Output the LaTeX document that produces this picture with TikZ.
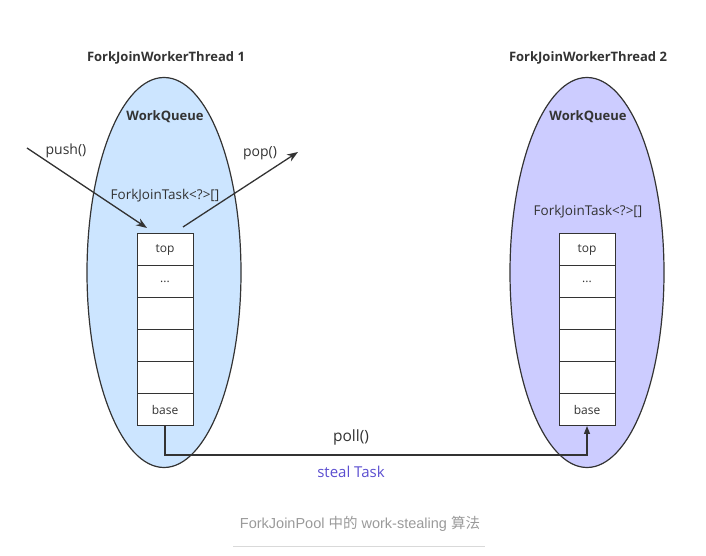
\documentclass[tikz,border=0pt]{standalone}
\usepackage{fontspec}
\setmainfont{Open Sans}
\newfontfamily\capfont{Liberation Sans}
\newfontfamily\cjk{Noto Sans CJK SC}
\usetikzlibrary{arrows.meta,positioning}
\definecolor{queueA}{HTML}{CCE5FF}
\definecolor{queueB}{HTML}{CCCCFF}
\definecolor{ink}{HTML}{333333}
\definecolor{steal}{HTML}{5B4ED0}
\definecolor{capgray}{HTML}{9A9A9A}
\tikzset{
  cell/.style={draw=ink,fill=white,line width=1pt,minimum width=56pt,minimum height=32pt,
    inner sep=0pt,outer sep=0pt,font=\fontsize{12}{14}\selectfont,text=ink},
  arr/.style={ink,line width=1.3pt,-{Stealth[length=11pt,width=8pt]}}
}

\begin{document}
\begin{tikzpicture}[x=1pt,y=1pt]
  \useasboundingbox (0,0) rectangle (706,556);
  % Thread 1
  \draw[ink,fill=queueA,line width=1.2pt] (164,283.5) ellipse (77 and 195);
  \node[font=\fontsize{13}{15}\selectfont\bfseries,text=ink] (title1) at (166,498) {ForkJoinWorkerThread 1};
  \node[font=\fontsize{13}{15}\selectfont\bfseries,text=ink] (wq1) at (165,439) {WorkQueue};
  \node[font=\fontsize{13.5}{15}\selectfont,text=ink] (arr1) at (165,360) {ForkJoinTask<?>[]};
  \node[cell] (top1) at (165,306) {top};
  \node[cell,below=0pt of top1] (dots1) {...};
  \node[cell,below=0pt of dots1] (c1a) {};
  \node[cell,below=0pt of c1a] (c1b) {};
  \node[cell,below=0pt of c1b] (c1c) {};
  \node[cell,below=0pt of c1c] (base1) {base};
  % push / pop
  \coordinate (pushin) at (27,408);
  \coordinate (popout) at (298,404);
  \node[font=\fontsize{14}{16}\selectfont,text=ink] (pushlbl) at (66,405) {push()};
  \node[font=\fontsize{14}{16}\selectfont,text=ink] (poplbl) at (260,403) {pop()};
  \draw[arr] (pushin) -- ([shift={(-18,6)}]top1.north);
  \draw[arr] ([shift={(18,7)}]top1.north) -- (popout);

  % Thread 2
  \draw[ink,fill=queueB,line width=1.2pt] (587,283.5) ellipse (77 and 195);
  \node[font=\fontsize{13}{15}\selectfont\bfseries,text=ink] (title2) at (588,498) {ForkJoinWorkerThread 2};
  \node[font=\fontsize{13}{15}\selectfont\bfseries,text=ink] (wq2) at (588,439) {WorkQueue};
  \node[font=\fontsize{13.5}{15}\selectfont,text=ink] (arr2) at (588,344) {ForkJoinTask<?>[]};
  \node[cell] (top2) at (587,306) {top};
  \node[cell,below=0pt of top2] (dots2) {...};
  \node[cell,below=0pt of dots2] (c2a) {};
  \node[cell,below=0pt of c2a] (c2b) {};
  \node[cell,below=0pt of c2b] (c2c) {};
  \node[cell,below=0pt of c2c] (base2) {base};

  % steal
  \draw[ink,line width=1.3pt,-{Triangle[length=8pt,width=6pt]}]
    (base1.south) -- ++(0,-29) -| (base2.south);
  \node[font=\fontsize{15.5}{17}\selectfont,text=ink] (polllbl) at (351,119) {poll()};
  \node[font=\fontsize{15}{17}\selectfont,text=steal] (steallbl) at (351,84) {steal Task};

  % caption
  \node[font=\fontsize{14.5}{17}\selectfont,text=capgray] (caption) at (360,32)
    {\capfont ForkJoinPool {\cjk 中的} work-stealing {\cjk 算法}};
  \draw[black!15,line width=0.8pt] (233,10) -- (485,10);
\end{tikzpicture}
\end{document}
